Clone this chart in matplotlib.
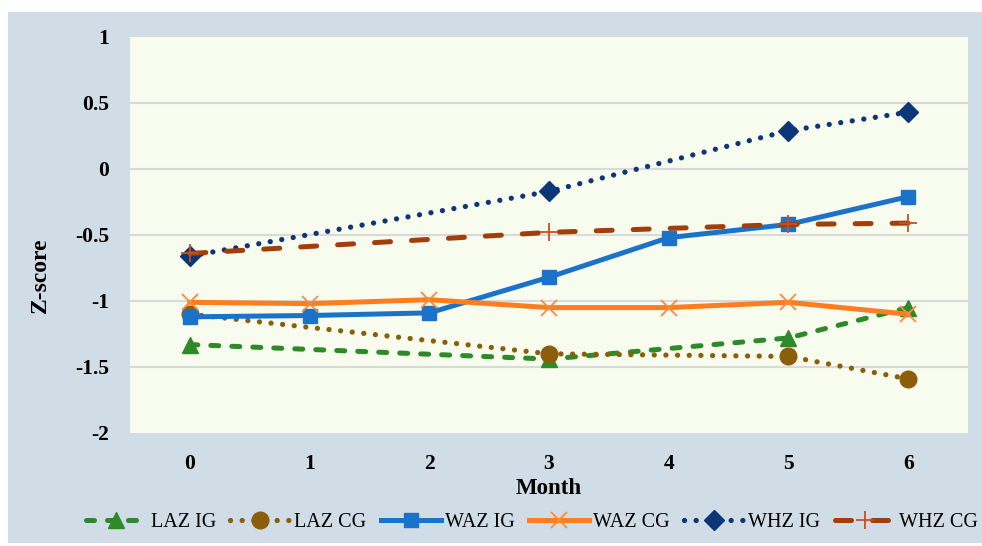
import matplotlib
matplotlib.use("Agg")
import matplotlib.pyplot as plt
from matplotlib.patches import Rectangle
from matplotlib.ticker import FuncFormatter

# Z-score trajectories by month
months_all = [0, 1, 2, 3, 4, 5, 6]
months_sub = [0, 3, 5, 6]

laz_ig = [-1.33, -1.44, -1.28, -1.05]
laz_cg = [-1.10, -1.40, -1.42, -1.59]
waz_ig = [-1.12, -1.11, -1.09, -0.82, -0.52, -0.42, -0.21]
waz_cg = [-1.01, -1.02, -0.99, -1.05, -1.05, -1.01, -1.10]
whz_ig = [-0.66, -0.17, 0.29, 0.43]
whz_cg = [-0.64, -0.48, -0.42, -0.41]

x_ticks = [0, 1, 2, 3, 4, 5, 6]
y_ticks = [-2, -1.5, -1, -0.5, 0, 0.5, 1]

plt.rcParams["font.family"] = ["Liberation Serif", "DejaVu Serif"]

fig = plt.figure(figsize=(9.82, 5.46), dpi=100, facecolor="white")
fig.patches.append(Rectangle((8 / 982, 3 / 546), 974 / 982, 531 / 546,
                             transform=fig.transFigure, facecolor="#d0dce6",
                             edgecolor="none", zorder=-5))

ax = fig.add_axes([130 / 982, 1 - 433 / 546, 838 / 982, 396 / 546])
ax.set_zorder(2)
ax.set_facecolor("#f8fcef")

ax.plot(months_sub, laz_ig, color="#2d8a27", lw=3.6, linestyle=(0, (1.6, 2.6)),
        dash_capstyle="round", marker="^", markersize=12, label="LAZ IG", zorder=3)
ax.plot(months_sub, laz_cg, color="#8a5e0b", lw=3.8, linestyle=(0, (0.01, 2.2)),
        dash_capstyle="round", marker="o", markersize=12, label="LAZ CG", zorder=4)
ax.plot(months_all, waz_ig, color="#1a73c9", lw=3.6, linestyle="-",
        marker="s", markersize=10.5, label="WAZ IG", zorder=5)
ax.plot(months_all, waz_cg, color="#fd7d1f", lw=3.6, linestyle="-",
        marker="x", markersize=11, markeredgewidth=1.3, markeredgecolor="#fd8a3c",
        label="WAZ CG", zorder=6)
ax.plot(months_sub, whz_ig, color="#0c3677", lw=3.8, linestyle=(0, (0.01, 2.2)),
        dash_capstyle="round", marker="D", markersize=10.5, label="WHZ IG", zorder=7)
ax.plot(months_sub, whz_cg, color="#a23e0a", lw=3.6, linestyle=(0, (3.2, 4.2)),
        dash_capstyle="round", marker="+", markersize=13, markeredgewidth=1.3,
        markeredgecolor="#c9501c", label="WHZ CG", zorder=8)

ax.set_xlim(-0.5, 6.5)
ax.set_ylim(-2, 1)
ax.set_xticks(x_ticks)
ax.set_yticks(y_ticks)
ax.yaxis.set_major_formatter(FuncFormatter(lambda v, p: f"{v:g}"))
ax.tick_params(length=0, labelsize=15.5)
ax.tick_params(axis="x", pad=15)
ax.tick_params(axis="y", pad=15)
for lab in ax.get_xticklabels() + ax.get_yticklabels():
    lab.set_fontweight("bold")

ax.grid(axis="y", color="#d9d9d9", lw=1.5, zorder=1)
ax.set_axisbelow(True)
gl = ax.yaxis.get_gridlines()
gl[0].set_visible(False)
gl[-1].set_visible(False)
for s in ax.spines.values():
    s.set_visible(False)

ax.set_xlabel("Month", fontsize=16.5, fontweight="bold", labelpad=3)
fig.text(40 / 982, 1 - 275 / 546, "Z-score", rotation=90, fontsize=17,
         fontweight="bold", ha="center", va="center")

leg = fig.legend(loc="center", bbox_to_anchor=(532 / 982, 1 - 522 / 546), ncol=6,
                 frameon=False, fontsize=14.5, handlelength=3.0, handletextpad=0.2,
                 columnspacing=0.7, borderaxespad=0)

fig.savefig("out.png", dpi=100, facecolor="white")
